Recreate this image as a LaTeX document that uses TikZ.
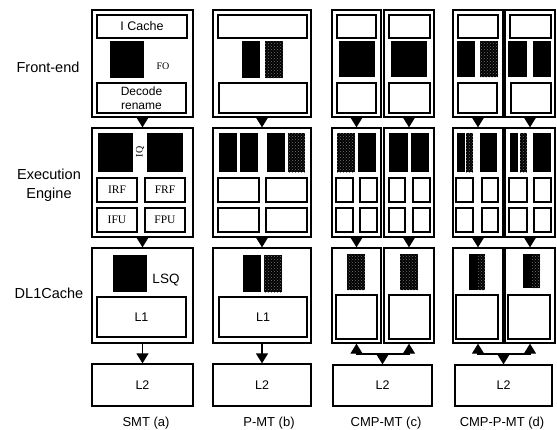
\documentclass[tikz,border=0pt]{standalone}
\usepackage{fontspec}
\setmainfont{Liberation Sans}
\newfontfamily\serfont{Liberation Serif}
\usepackage{tikz}
\usetikzlibrary{arrows.meta,fit,patterns}

\begin{document}
\begin{tikzpicture}[
  x=1pt,y=-1pt,
  font=\fontsize{12.5}{16}\selectfont,
  frame/.style={draw=black,line width=1.3pt,inner sep=0pt,align=center},
  unit/.style={draw=black,line width=2pt,inner sep=0pt,fill=white,align=center},
  fu/.style={unit,minimum width=40,minimum height=24,font=\serfont\fontsize{11.5}{13}\selectfont},
  tag/.style={inner sep=0pt,font=\serfont\fontsize{10}{12}\selectfont},
  blk/.style={fill=black},
  hatch/.style={fill=black,postaction={pattern=crosshatch dots,pattern color=white!45!black}},
  rowlbl/.style={align=center,font=\fontsize{14.5}{19}\selectfont},
  colcap/.style={anchor=base,font=\fontsize{13}{15}\selectfont},
  arr/.style={-{Triangle[width=12pt,length=10pt]},line width=1.3pt}
]
\useasboundingbox (0,0) rectangle (557,429);

% row labels
\node[rowlbl] (rowfe) at (48,67) {Front-end};
\node[rowlbl] (rowex) at (49,185) {Execution\\Engine};
\node[rowlbl] (rowdc) at (49,293) {DL1Cache};

% SMT (a)
\node[frame,fit={(92,10) (193,117)}] (fetchA) {};
\node[unit,minimum width=90,minimum height=23] (icacheA) at (142,26.5) {I Cache};
\fill[blk] (110,41) rectangle (144,78);
\node[tag] (fqA) at (163,66) {FO};
\node[unit,minimum width=89,minimum height=30,font=\fontsize{12}{14.5}\selectfont] (decodeA) at (141.5,98) {Decode\\rename};
\node[frame,fit={(92,128) (193,237)}] (execA) {};
\fill[blk] (98,133) rectangle (133,172);
\fill[blk] (147,133) rectangle (183,172);
\node[tag,rotate=90] (iqA) at (140,152) {IQ};
\node[fu] (irfA) at (117,190) {IRF};
\node[fu] (frfA) at (165,190) {FRF};
\node[fu] (ifuA) at (117,220) {IFU};
\node[fu] (fpuA) at (165,220) {FPU};
\node[frame,fit={(92,248) (193,343)}] (dcacheA) {};
\fill[blk] (113,255) rectangle (147,292);
\node[inner sep=0pt,font=\fontsize{13.5}{16}\selectfont] (lsqA) at (166,280) {LSQ};
\node[unit,minimum width=89,minimum height=40] (loneA) at (141.5,317) {L1};
\node[frame,minimum width=101,minimum height=42] (ltwoA) at (142.5,385) {L2};
\node[colcap] (capA) at (146,426) {SMT (a)};

% P-MT (b)
\node[frame,fit={(213,10) (311,117)}] (fetchB) {};
\node[unit,fit={(218,15) (307,38)}] (icacheB) {};
\fill[blk] (242,41) rectangle (260,78);
\path[hatch] (265,41) rectangle (283,78);
\node[unit,fit={(219,83) (307,113)}] (decodeB) {};
\node[frame,fit={(213,128) (311,237)}] (execB) {};
\fill[blk] (219,133) rectangle (237,172);
\fill[blk] (240,133) rectangle (258,172);
\fill[blk] (267,133) rectangle (285,172);
\path[hatch] (288,133) rectangle (305,172);
\node[unit,fit={(218,178) (259,202)}] (irfB) {};
\node[unit,fit={(266,178) (307,202)}] (frfB) {};
\node[unit,fit={(218,208) (259,232)}] (ifuB) {};
\node[unit,fit={(266,208) (307,232)}] (fpuB) {};
\node[frame,fit={(213,248) (311,343)}] (dcacheB) {};
\fill[blk] (243,255) rectangle (261,292);
\path[hatch] (264,255) rectangle (282,292);
\node[unit,minimum width=88,minimum height=40] (loneB) at (263,317) {L1};
\node[frame,minimum width=98,minimum height=42] (ltwoB) at (262,385) {L2};
\node[colcap] (capB) at (269,426) {P-MT (b)};

% CMP-MT (c)
\node[frame,fit={(332,10) (381,117)}] (fetchC1) {};
\node[frame,fit={(384,10) (434,117)}] (fetchC2) {};
\node[unit,fit={(337,15) (376,38)}] (icacheC1) {};
\fill[blk] (339,41) rectangle (375,77);
\node[unit,fit={(337,83) (376,113)}] (decodeC1) {};
\node[unit,fit={(389,15) (430,38)}] (icacheC2) {};
\fill[blk] (391,41) rectangle (427,77);
\node[unit,fit={(389,83) (430,113)}] (decodeC2) {};
\node[frame,fit={(332,128) (381,237)}] (execC1) {};
\node[frame,fit={(384,128) (434,237)}] (execC2) {};
\path[hatch] (337,133) rectangle (355,172);
\fill[blk] (358,133) rectangle (376,172);
\fill[blk] (389,133) rectangle (408,172);
\fill[blk] (411,133) rectangle (429,172);
\node[unit,fit={(336,178) (353,202)}] (irfC1) {};
\node[unit,fit={(360,178) (377,202)}] (frfC1) {};
\node[unit,fit={(336,208) (353,232)}] (ifuC1) {};
\node[unit,fit={(360,208) (377,232)}] (fpuC1) {};
\node[unit,fit={(389,178) (405,202)}] (irfC2) {};
\node[unit,fit={(413,178) (430,202)}] (frfC2) {};
\node[unit,fit={(389,208) (405,232)}] (ifuC2) {};
\node[unit,fit={(413,208) (430,232)}] (fpuC2) {};
\node[frame,fit={(332,248) (381,343)}] (dcacheC1) {};
\node[frame,fit={(384,248) (434,343)}] (dcacheC2) {};
\path[hatch] (347,254) rectangle (365,290);
\node[unit,fit={(336,295) (377,339)}] (loneC1) {};
\path[hatch] (400,254) rectangle (418,290);
\node[unit,fit={(389,295) (430,339)}] (loneC2) {};
\node[frame,minimum width=99,minimum height=41] (ltwoC) at (382.5,385.5) {L2};
\coordinate (jC) at (382.5,354);
\node[colcap] (capC) at (386,426) {CMP-MT (c)};

% CMP-P-MT (d)
\node[frame,fit={(453,10) (503,117)}] (fetchD1) {};
\node[frame,fit={(505,10) (555,117)}] (fetchD2) {};
\node[unit,fit={(458,15) (498,38)}] (icacheD1) {};
\fill[blk] (457,41) rectangle (475,77);
\path[hatch] (480,41) rectangle (498,77);
\node[unit,fit={(458,83) (497,113)}] (decodeD1) {};
\node[unit,fit={(510,15) (551,38)}] (icacheD2) {};
\fill[blk] (508,41) rectangle (527,77);
\fill[blk] (533,41) rectangle (551,77);
\node[unit,fit={(511,83) (551,113)}] (decodeD2) {};
\node[frame,fit={(453,128) (503,237)}] (execD1) {};
\node[frame,fit={(505,128) (555,237)}] (execD2) {};
\fill[blk] (457,133) rectangle (465,172);
\path[hatch] (466,133) rectangle (473,172);
\fill[blk] (480,133) rectangle (497,172);
\fill[blk] (510,133) rectangle (518,172);
\path[hatch] (520,133) rectangle (527,172);
\fill[blk] (533,133) rectangle (551,172);
\node[unit,fit={(456,178) (473,202)}] (irfD1) {};
\node[unit,fit={(482,178) (498,202)}] (frfD1) {};
\node[unit,fit={(456,208) (473,232)}] (ifuD1) {};
\node[unit,fit={(482,208) (498,232)}] (fpuD1) {};
\node[unit,fit={(509,178) (527,202)}] (irfD2) {};
\node[unit,fit={(534,178) (551,202)}] (frfD2) {};
\node[unit,fit={(509,208) (527,232)}] (ifuD2) {};
\node[unit,fit={(534,208) (551,232)}] (fpuD2) {};
\node[frame,fit={(453,248) (503,343)}] (dcacheD1) {};
\node[frame,fit={(505,248) (555,343)}] (dcacheD2) {};
\fill[blk] (469,254) rectangle (478,290);
\path[hatch] (478,254) rectangle (485,290);
\node[unit,fit={(456,295) (498,339)}] (loneD1) {};
\fill[blk] (523,254) rectangle (532,288);
\path[hatch] (532,254) rectangle (540,288);
\node[unit,fit={(508,295) (550,339)}] (loneD2) {};
\node[frame,minimum width=97,minimum height=41] (ltwoD) at (503.5,385.5) {L2};
\coordinate (jD) at (503.5,354);
\node[colcap] (capD) at (502,426) {CMP-P-MT (d)};

% connectors
\draw[arr] (fetchA) -- (execA);
\draw[arr] (execA) -- (dcacheA);
\draw[arr] (dcacheA) -- (ltwoA);
\draw[arr] (fetchB) -- (execB);
\draw[arr] (execB) -- (dcacheB);
\draw[arr] (dcacheB) -- (ltwoB);
\draw[arr] (fetchC1) -- (execC1);
\draw[arr] (fetchC2) -- (execC2);
\draw[arr] (execC1) -- (dcacheC1);
\draw[arr] (execC2) -- (dcacheC2);
\draw[arr] (jC) -| (dcacheC1);
\draw[arr] (jC) -| (dcacheC2);
\draw[arr] (jC) -- (ltwoC);
\draw[arr] (fetchD1) -- (execD1);
\draw[arr] (fetchD2) -- (execD2);
\draw[arr] (execD1) -- (dcacheD1);
\draw[arr] (execD2) -- (dcacheD2);
\draw[arr] (jD) -| (dcacheD1);
\draw[arr] (jD) -| (dcacheD2);
\draw[arr] (jD) -- (ltwoD);
\end{tikzpicture}
\end{document}
